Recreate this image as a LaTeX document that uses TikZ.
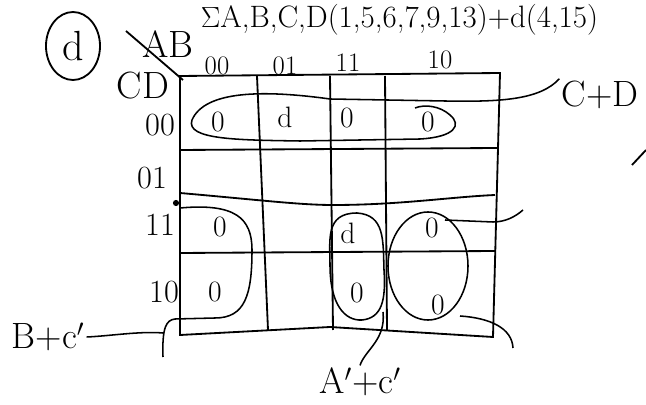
\documentclass[tikz,border=0pt]{standalone}
\usetikzlibrary{positioning,shapes.geometric}
\begin{document}
\begin{tikzpicture}[x=0.025cm, y=-0.025cm, line width=1.3pt,
    hdr/.style={font=\fontsize{19}{21}\selectfont, inner sep=0pt},
    side/.style={font=\fontsize{23}{25}\selectfont, inner sep=0pt},
    entry/.style={font=\fontsize{21}{23}\selectfont, inner sep=0pt},
    tag/.style={font=\fontsize{26}{28}\selectfont, inner sep=1pt},
    ring/.style={line width=1.1pt}]
    \clip (0,0) rectangle (646,405);

    % heading
    \node[font=\fontsize{22}{24}\selectfont, anchor=base west, inner sep=0pt] (title) at (200,28) {$\Sigma$A,B,C,D(1,5,6,7,9,13)+d(4,15)};
    \node[draw, ellipse, minimum width=1.35cm, minimum height=1.7cm, font=\fontsize{30}{32}\selectfont] (part) at (73,46) {d};

    % map
    \node[font=\fontsize{27}{29}\selectfont, inner sep=0pt] (ab) at (168,44) {AB};
    \node[font=\fontsize{27}{29}\selectfont, inner sep=0pt] (cd) at (143,86) {CD};
    \coordinate (corner) at (183,80);
    \draw (126,31) -- (corner);
    \draw (180,76) -- (500,73) -- (493,337) -- (330,327) -- (180,335) -- cycle;
    \foreach \xa/\xb in {257/268, 330/333, 385/387}
        \draw (\xa,76) -- (\xb,330);
    \draw (180,150) -- (497,148);
    \draw (180,193) .. controls (260,200) and (300,205) .. (333,205) .. controls (400,205) and (450,197) .. (495,195);
    \draw (180,253) -- (495,251);
    \fill (176,203) circle [radius=2.2pt];

    \node[hdr] (c00) at (217,66) {00};
    \node[hdr] (c01) at (285,66) {01};
    \node[hdr] (c11) at (348,63) {11};
    \node[hdr] (c10) at (440,60) {10};
    \node[side] (r00) at (160,125) {00};
    \node[side] (r01) at (152,178) {01};
    \node[side] (r11) at (160,225) {11};
    \node[side] (r10) at (164,292) {10};

    \node[entry] (m0) at (218,122) {0};
    \node[entry] (m4) at (285,117) {d};
    \node[entry] (m12) at (347,118) {0};
    \node[entry] (m8) at (428,122) {0};
    \node[entry] (m3) at (220,227) {0};
    \node[entry] (m15) at (348,233) {d};
    \node[entry] (m11) at (432,228) {0};
    \node[entry] (m2) at (215,292) {0};
    \node[entry] (m14) at (357,293) {0};
    \node[entry] (m10) at (438,305) {0};

    % groups
    \coordinate (cdend) at (445,101);
    \draw[ring] (cdend) -- (330,99) .. controls (265,90) and (205,90) .. (192,120) .. controls (185,140) and (240,140) .. (300,141) -- (420,139) .. controls (455,137) and (462,125) .. (450,115) .. controls (440,106) and (425,104) .. (415,108);
    \coordinate (bcnotch) at (163,333);
    \draw[ring] (180,208) .. controls (235,203) and (252,218) .. (252,250) .. controls (252,295) and (245,318) .. (215,318) -- (175,319) .. controls (166,320) and (162,328) .. (163,357);
    \draw[ring] (445,220) -- (493,222) .. controls (505,222) and (515,217) .. (523,210);
    \draw[ring] (460,316) .. controls (490,318) and (512,328) .. (513,348);
    \draw[ring] (357,213) .. controls (325,213) and (330,240) .. (330,265) .. controls (330,305) and (345,321) .. (362,320) .. controls (382,318) and (386,300) .. (384,270) .. controls (383,240) and (385,215) .. (357,213);
    \draw[ring] (428,266) ellipse [x radius=1cm, y radius=1.35cm];
    \coordinate (acend) at (383,312);
    \draw (632,165) -- (646,150);

    \node[tag] (cpd) at (600,95) {C+D};
    \node[tag] (bpc) at (48,337) {B+c$'$};
    \node[tag] (apc) at (360,382) {A$'$+c$'$};
    \draw[ring] (cdend) .. controls (500,102) and (540,100) .. (cpd.north west);
    \draw[ring] (bpc.east) .. controls (110,336) and (140,331) .. (bcnotch);
    \draw[ring] (acend) .. controls (386,340) and (365,350) .. (apc.north);
\end{tikzpicture}
\end{document}
